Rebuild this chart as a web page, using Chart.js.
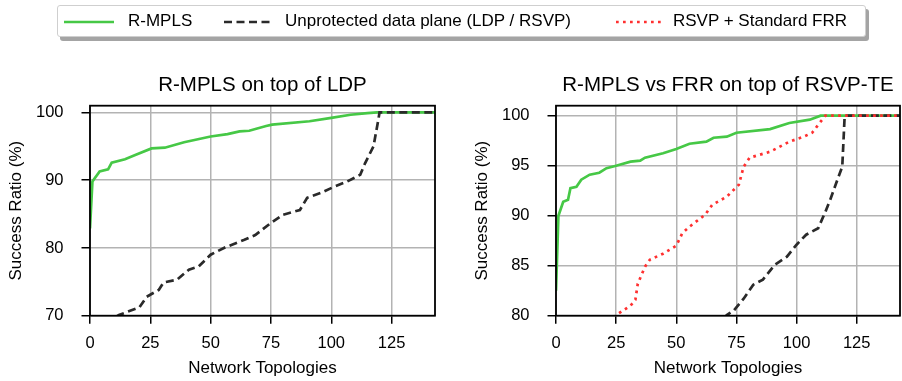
<!DOCTYPE html>
<html>
<head>
<meta charset="utf-8">
<script src="https://cdn.jsdelivr.net/npm/chart.js@4"></script>
<style>
  body { margin: 0; background: #fff; font-family: "Liberation Sans", Arial, sans-serif; }
  #wrap { position: relative; width: 902px; height: 381px; overflow: hidden; }
  canvas { position: absolute; top: 0; }
  #legend {
    position: absolute; left: 57px; top: 5px; width: 807px; height: 30px;
    border: 1px solid #cfcfcf; border-radius: 3px; background: #fff;
    box-shadow: 3px 4px 0 #a4a4a4; font-size: 17px; color: #000;
  }
  .item { position: absolute; top: 0; height: 30px; line-height: 30px; white-space: nowrap; }
  .item svg { position: absolute; top: 0; }
</style>
</head>
<body>
<div id="wrap">
  <canvas id="ldpChart" width="451" height="381" style="left:0"></canvas>
  <canvas id="rsvpChart" width="436" height="381" style="left:466px"></canvas>
  <div id="legend"></div>
</div>
<script>
// colours / series names
const GREEN = '#46c846';
const BLACK = '#2a2a2a';
const RED = '#ff3030';
const seriesNames = ['R-MPLS', 'Unprotected data plane (LDP / RSVP)', 'RSVP + Standard FRR'];

// shared ticks
const xTicks = [0, 25, 50, 75, 100, 125];
const ldpYTicks = [70, 80, 90, 100];
const rsvpYTicks = [80, 85, 90, 95, 100];

// left panel: R-MPLS on top of LDP
const ldpRmplsX = [0, 1, 4, 7.5, 9, 14.5, 19, 25.5, 31, 39, 50, 57, 62, 66, 73, 75.5, 91, 100, 108, 115, 119, 143];
const ldpRmplsY = [82.9, 89.8, 91.3, 91.6, 92.6, 93.1, 93.75, 94.7, 94.8, 95.6, 96.45, 96.8, 97.2, 97.3, 98.0, 98.2, 98.7, 99.2, 99.66, 99.9, 100, 100];
const ldpPlainX = [11, 12, 20.5, 23.5, 28.5, 30.5, 36, 41, 45, 50, 55.5, 64, 68.5, 75, 80, 87, 90, 95.5, 101, 106.5, 112, 114, 117.5, 119.5, 120, 143];
const ldpPlainY = [69.9, 70.1, 71.25, 72.8, 73.8, 74.9, 75.3, 76.8, 77.25, 79, 80, 81.2, 81.9, 83.7, 84.9, 85.6, 87.4, 88.1, 89, 89.8, 90.8, 92.5, 95, 98.9, 100, 100];

// right panel: R-MPLS vs FRR on top of RSVP-TE
const rsvpRmplsX = [0, 1, 3, 5, 6, 8.5, 10.5, 14, 18, 21, 25, 31, 35, 37, 44.5, 50, 55.5, 62.5, 65.5, 71, 75, 89, 97, 105.5, 110, 143];
const rsvpRmplsY = [82.5, 90, 91.4, 91.6, 92.75, 92.9, 93.6, 94.1, 94.3, 94.75, 95.0, 95.4, 95.5, 95.8, 96.25, 96.66, 97.2, 97.4, 97.8, 97.9, 98.3, 98.66, 99.27, 99.6, 100, 100];
const rsvpFrrX = [24, 25, 31, 33, 34, 37, 39, 44.5, 50, 52.5, 55.5, 62, 65, 71, 76, 78, 80.5, 89, 97, 103, 106.5, 110, 112, 143];
const rsvpFrrY = [79.8, 80.06, 81, 81.6, 83.2, 84.9, 85.6, 86.2, 87, 88.25, 88.9, 90.1, 91.1, 91.9, 93.1, 94.9, 95.8, 96.4, 97.4, 97.9, 98.3, 99.4, 100, 100];
const rsvpPlainX = [70, 71, 74, 78, 82, 86, 91, 96, 100, 104, 109, 112, 114, 117, 119, 120, 143];
const rsvpPlainY = [79.8, 80.06, 80.55, 81.7, 83.1, 83.6, 85.1, 85.9, 87.1, 88.1, 88.75, 90.4, 91.6, 93.6, 94.9, 100, 100];

const FONT = '"Liberation Sans", Arial, sans-serif';

const toPoints = (xs, ys) => xs.map((x, i) => ({ x: x, y: ys[i] }));

function rmplsSet(xs, ys) {
  return { label: seriesNames[0], data: toPoints(xs, ys), borderColor: GREEN, borderWidth: 2.7, order: 3 };
}
function plainSet(xs, ys) {
  return { label: seriesNames[1], data: toPoints(xs, ys), borderColor: BLACK, borderWidth: 2.7, borderDash: [8, 4.5], order: 2 };
}
function frrSet(xs, ys) {
  return { label: seriesNames[2], data: toPoints(xs, ys), borderColor: RED, borderWidth: 2.7, borderDash: [2.7, 4.3], order: 1 };
}

// black frame round the plot area
const framePlugin = {
  id: 'frame',
  afterDatasetsDraw(chart) {
    const a = chart.chartArea, ctx = chart.ctx;
    ctx.save();
    ctx.strokeStyle = '#000';
    ctx.lineWidth = 1.8;
    ctx.strokeRect(a.left, a.top, a.right - a.left, a.bottom - a.top);
    ctx.restore();
  }
};

// panel title centred over the plot area
const titlePlugin = {
  id: 'panelTitle',
  afterDraw(chart, args, opts) {
    const a = chart.chartArea, ctx = chart.ctx;
    ctx.save();
    ctx.font = '20.5px ' + FONT;
    ctx.fillStyle = '#000';
    ctx.textAlign = 'center';
    ctx.textBaseline = 'alphabetic';
    ctx.fillText(opts.text, (a.left + a.right) / 2, a.top - 15);
    ctx.restore();
  }
};

function makeChart(id, title, yMin, yTicks, padRight, datasets) {
  return new Chart(document.getElementById(id), {
    type: 'line',
    data: { datasets: datasets },
    options: {
      responsive: false,
      animation: false,
      events: [],
      elements: { point: { radius: 0 }, line: { tension: 0, borderCapStyle: 'butt' } },
      layout: { padding: { top: 105.7, right: padRight, left: 0, bottom: 0 } },
      plugins: { legend: { display: false }, tooltip: { enabled: false }, panelTitle: { text: title } },
      scales: {
        x: {
          type: 'linear', min: 0, max: 143,
          afterBuildTicks: s => { s.ticks = xTicks.map(v => ({ value: v })); },
          afterFit: s => { s.height = 65.3; },
          border: { display: false },
          grid: { color: '#b3b3b3', lineWidth: 1.5, tickColor: '#000', tickWidth: 1.5, tickLength: 8 },
          ticks: { color: '#000', font: { family: FONT, size: 16.5 }, padding: 10, maxRotation: 0 },
          title: { display: true, text: 'Network Topologies', color: '#000', font: { family: FONT, size: 17 }, padding: { top: 0, bottom: 2.8 } }
        },
        y: {
          type: 'linear', min: yMin, max: 101,
          afterBuildTicks: s => { s.ticks = yTicks.map(v => ({ value: v })); },
          afterFit: s => { s.width = 90; },
          border: { display: false },
          grid: { color: '#b3b3b3', lineWidth: 1.5, tickColor: '#000', tickWidth: 1.5, tickLength: 8.5 },
          ticks: { color: '#000', font: { family: FONT, size: 16.5 }, padding: 18 },
          title: { display: true, text: 'Success Ratio (%)', color: '#000', font: { family: FONT, size: 17 }, padding: { top: 5.8, bottom: 0 } }
        }
      }
    },
    plugins: [framePlugin, titlePlugin]
  });
}

makeChart('ldpChart', 'R-MPLS on top of LDP', 70, ldpYTicks, 16, [
  rmplsSet(ldpRmplsX, ldpRmplsY),
  plainSet(ldpPlainX, ldpPlainY)
]);

makeChart('rsvpChart', 'R-MPLS vs FRR on top of RSVP-TE', 80, rsvpYTicks, 2, [
  rmplsSet(rsvpRmplsX, rsvpRmplsY),
  plainSet(rsvpPlainX, rsvpPlainY),
  frrSet(rsvpFrrX, rsvpFrrY)
]);

// legend (html, line samples as small svgs)
const legendItems = [
  { name: seriesNames[0], color: GREEN, dash: '', lineLeft: 6, textLeft: 70 },
  { name: seriesNames[1], color: BLACK, dash: '8 4.5', lineLeft: 166, textLeft: 227 },
  { name: seriesNames[2], color: RED, dash: '2.7 4.3', lineLeft: 558, textLeft: 615 }
];
const legend = document.getElementById('legend');
legend.innerHTML = legendItems.map(it => `
  <div class="item" style="left:${it.lineLeft}px">
    <svg width="50" height="30"><line x1="0" y1="16" x2="${it.dash ? 46 : 50}" y2="16" stroke="${it.color}" stroke-width="2.7" stroke-dasharray="${it.dash}"/></svg>
  </div>
  <div class="item" style="left:${it.textLeft}px">${it.name}</div>
`).join('');
</script>
</body>
</html>
